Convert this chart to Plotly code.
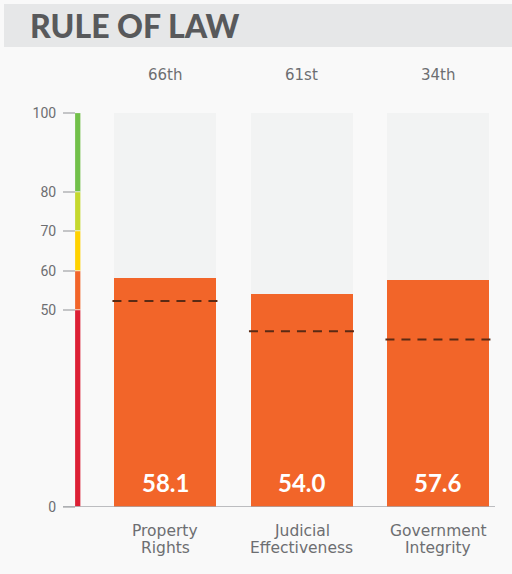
import plotly.graph_objects as go

# ---- data ----
categories = ["Property Rights", "Judicial Effectiveness", "Government Integrity"]
scores = [58.1, 54.0, 57.6]
averages = [52.3, 44.6, 42.5]
ranks = ["66th", "61st", "34th"]
scale_bases = [0, 50, 60, 70, 80]
scale_sizes = [50, 10, 10, 10, 20]
scale_colors = ["#DC2035", "#F26529", "#FFD200", "#C5D82E", "#72C04A"]
y_ticks = [0, 50, 60, 70, 80, 100]
title = "RULE OF LAW"

W, H = 512, 574
BAR_COLOR = "#F26529"
TRACK_COLOR = "#F2F3F3"
GRAY_TEXT = "#6D6E71"
BAR_W = 0.75

xs = list(range(len(categories)))

fig = go.Figure()

# background tracks (0-100)
fig.add_trace(go.Bar(x=xs, y=[100] * len(xs), width=BAR_W, marker=dict(color=TRACK_COLOR, line=dict(width=0)),
                     hoverinfo="skip", showlegend=False))
# score bars
fig.add_trace(go.Bar(x=xs, y=scores, width=BAR_W, marker=dict(color=BAR_COLOR, line=dict(width=0)),
                     showlegend=False, hoverinfo="skip"))
# average dashed lines
for i, a in enumerate(averages):
    fig.add_trace(go.Scatter(x=[i - BAR_W / 2 - 0.01, i + BAR_W / 2 + 0.01], y=[a, a], mode="lines",
                             line=dict(color="#5A2A14", width=2, dash="9px,7px"),
                             showlegend=False, hoverinfo="skip"))

# colour scale bar
fig.add_trace(go.Bar(x=[0] * len(scale_sizes), y=scale_sizes, base=scale_bases, width=1,
                     marker=dict(color=scale_colors, line=dict(color="#F9F9F9", width=0.6)),
                     xaxis="x2", yaxis="y", showlegend=False, hoverinfo="skip"))

# score value labels inside bars
for i, v in enumerate(scores):
    fig.add_annotation(x=i, y=(H - 482.5) / H, xref="x", yref="paper", text=f"<b>{v:.1f}</b>", showarrow=False,
                       yanchor="middle", font=dict(family="Lato", size=24, color="white"))

# rank labels
for i, r in enumerate(ranks):
    fig.add_annotation(x=i, y=(H - 75) / H, xref="x", yref="paper", text=r, showarrow=False,
                       yanchor="middle", font=dict(family="DejaVu Sans", size=15, color=GRAY_TEXT))

# category labels (two lines)
for i, c in enumerate(categories):
    first, second = c.split(" ", 1)
    for line, py in ((first, 531), (second, 548)):
        fig.add_annotation(x=i, y=(H - py) / H, xref="x", yref="paper", text=line, showarrow=False,
                           yanchor="middle", font=dict(family="DejaVu Sans", size=15.5, color=GRAY_TEXT))

# title band
fig.add_shape(type="rect", xref="paper", yref="paper", x0=4 / W, x1=1, y0=(H - 47) / H, y1=(H - 4) / H,
              fillcolor="#E6E7E8", line=dict(width=0), layer="below")
fig.add_annotation(x=28 / W, y=(H - 25.5) / H, xref="paper", yref="paper", text=title,
                   showarrow=False, xanchor="left", yanchor="middle",
                   font=dict(family="Lato", size=32, color="#58595B", weight=900))

# bottom axis line
fig.add_shape(type="line", xref="paper", yref="y", x0=63 / W, x1=495 / W, y0=0, y1=0,
              line=dict(color="#A7A9AC", width=1.5), layer="above")

y_dom = [(H - 507) / H, (H - 113) / H]
x_left = 165 - 68.25
x_right = x_left + 3 * 136.5

fig.update_layout(
    width=W, height=H,
    margin=dict(l=0, r=0, t=0, b=0, pad=0, autoexpand=False),
    paper_bgcolor="#F9F9F9", plot_bgcolor="rgba(0,0,0,0)",
    barmode="overlay", bargap=0,
    xaxis=dict(domain=[x_left / W, x_right / W], range=[-0.5, 2.5], showticklabels=False, automargin=False,
               showgrid=False, zeroline=False, showline=False, fixedrange=True),
    xaxis2=dict(domain=[75 / W, 81 / W], range=[-0.5, 0.5], anchor="y", showticklabels=False, automargin=False,
                showgrid=False, zeroline=False, showline=False, fixedrange=True),
    yaxis=dict(domain=y_dom, range=[0, 100], anchor="free", position=75 / W, automargin=False,
               tickvals=y_ticks, ticktext=[str(t) for t in y_ticks],
               ticks="outside", ticklen=12, tickwidth=2, tickcolor="#C4C5C7",
               ticklabelstandoff=4,
               tickfont=dict(family="Roboto", size=14, color=GRAY_TEXT),
               showgrid=False, zeroline=False, showline=False, fixedrange=True),
)

fig.write_html("out.html", config={"displayModeBar": False},
               post_script="document.body.style.margin='0';document.body.style.overflow='hidden';")
